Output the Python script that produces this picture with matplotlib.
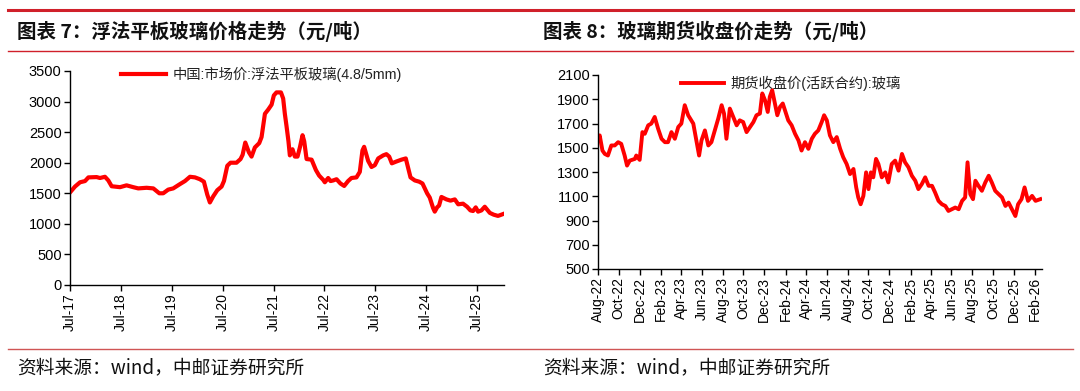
import matplotlib
matplotlib.use("Agg")
import matplotlib.pyplot as plt
import matplotlib.dates as mdates
import numpy as np
import pandas as pd

plt.rcParams['font.family'] = ['Liberation Sans', 'Noto Sans CJK SC', 'DejaVu Sans']

# ---------------- data: left chart (spot price) ----------------
spot_dates = [
    "2017-07-06", "2017-08-06", "2017-09-11", "2017-10-17", "2017-11-10", "2018-01-08",
    "2018-02-01", "2018-03-09", "2018-04-02", "2018-04-26", "2018-06-25", "2018-08-11",
    "2018-09-28", "2018-11-03", "2019-01-02", "2019-02-19", "2019-04-03", "2019-05-01",
    "2019-06-06", "2019-07-12", "2019-08-29", "2019-10-04", "2019-11-09", "2019-12-15",
    "2020-01-19", "2020-02-17", "2020-03-12", "2020-03-31", "2020-04-24", "2020-05-23",
    "2020-06-23", "2020-07-10", "2020-08-03", "2020-08-26", "2020-10-08", "2020-11-06",
    "2020-11-21", "2020-12-10", "2021-01-05", "2021-01-24", "2021-02-17", "2021-03-20",
    "2021-04-06", "2021-04-30", "2021-05-24", "2021-06-17", "2021-07-03", "2021-07-22",
    "2021-08-23", "2021-09-08", "2021-09-20", "2021-10-02", "2021-10-16", "2021-10-26",
    "2021-11-14", "2021-12-01", "2021-12-20", "2022-01-06", "2022-01-25", "2022-02-06",
    "2022-02-23", "2022-03-31", "2022-05-01", "2022-05-24", "2022-06-22", "2022-07-04",
    "2022-07-28", "2022-08-14", "2022-09-02", "2022-09-26", "2022-10-24", "2022-11-20",
    "2022-12-18", "2023-01-11", "2023-02-16", "2023-03-12", "2023-03-31", "2023-04-12",
    "2023-05-11", "2023-06-04", "2023-06-28", "2023-07-22", "2023-08-27", "2023-09-19",
    "2023-10-09", "2023-10-28", "2023-11-30", "2024-01-05", "2024-02-05", "2024-03-10",
    "2024-04-10", "2024-05-11", "2024-06-04", "2024-07-07", "2024-07-26", "2024-08-19",
    "2024-08-31", "2024-09-17", "2024-10-01", "2024-10-18", "2024-11-23", "2024-12-22",
    "2025-01-22", "2025-02-15", "2025-03-22", "2025-04-20", "2025-05-14", "2025-06-02",
    "2025-06-21", "2025-07-08", "2025-08-01", "2025-08-25", "2025-09-30", "2025-10-28",
    "2025-11-28", "2026-01-03",
]
spot_values = [
    1527, 1610, 1680, 1700, 1760, 1765,
    1750, 1770, 1710, 1615, 1600, 1630,
    1600, 1580, 1590, 1580, 1500, 1500,
    1560, 1580, 1650, 1700, 1770, 1760,
    1730, 1690, 1480, 1350, 1450, 1550,
    1610, 1700, 1950, 2000, 2000, 2060,
    2130, 2330, 2170, 2100, 2250, 2320,
    2420, 2800, 2870, 2950, 3100, 3150,
    3150, 3050, 2800, 2600, 2350, 2120,
    2220, 2100, 2100, 2250, 2450, 2350,
    2060, 2050, 1880, 1790, 1720, 1680,
    1750, 1700, 1710, 1730, 1660, 1620,
    1700, 1750, 1760, 1850, 2200, 2260,
    2030, 1930, 1960, 2070, 2120, 2140,
    2100, 1990, 2020, 2050, 2070, 1760,
    1710, 1690, 1660, 1500, 1430, 1260,
    1200, 1270, 1300, 1440, 1400, 1380,
    1400, 1320, 1330, 1280, 1220, 1210,
    1270, 1200, 1220, 1280, 1180, 1150,
    1130, 1160,
]
spot_label = "中国:市场价:浮法平板玻璃(4.8/5mm)"

# ---------------- data: right chart (futures close) ----------------
fut_dates = [
    "2022-08-01", "2022-08-06", "2022-08-14", "2022-08-21", "2022-08-30", "2022-09-09",
    "2022-09-19", "2022-09-29", "2022-10-08", "2022-10-18", "2022-10-25", "2022-11-02",
    "2022-11-17", "2022-11-21", "2022-12-01", "2022-12-09", "2022-12-16", "2022-12-26",
    "2023-01-04", "2023-01-14", "2023-01-24", "2023-02-03", "2023-02-13", "2023-02-22",
    "2023-03-04", "2023-03-14", "2023-03-24", "2023-04-02", "2023-04-12", "2023-04-22",
    "2023-05-07", "2023-05-16", "2023-05-24", "2023-05-31", "2023-06-10", "2023-06-20",
    "2023-06-29", "2023-07-09", "2023-07-19", "2023-07-29", "2023-08-05", "2023-08-12",
    "2023-08-22", "2023-09-01", "2023-09-11", "2023-09-20", "2023-09-30", "2023-10-10",
    "2023-10-20", "2023-10-30", "2023-11-08", "2023-11-18", "2023-11-25", "2023-12-03",
    "2023-12-11", "2023-12-17", "2023-12-24", "2024-01-01", "2024-01-08", "2024-01-16",
    "2024-01-24", "2024-02-01", "2024-02-09", "2024-02-19", "2024-02-29", "2024-03-10",
    "2024-03-19", "2024-03-29", "2024-04-08", "2024-04-18", "2024-04-27", "2024-05-07",
    "2024-05-17", "2024-05-24", "2024-06-01", "2024-06-10", "2024-06-20", "2024-06-30",
    "2024-07-10", "2024-07-19", "2024-07-29", "2024-08-08", "2024-08-18", "2024-08-26",
    "2024-09-01", "2024-09-08", "2024-09-16", "2024-09-24", "2024-10-01", "2024-10-08",
    "2024-10-15", "2024-10-23", "2024-10-30", "2024-11-09", "2024-11-19", "2024-11-28",
    "2024-12-08", "2024-12-18", "2024-12-28", "2025-01-07", "2025-01-16", "2025-01-26",
    "2025-02-05", "2025-02-15", "2025-02-24", "2025-03-06", "2025-03-16", "2025-03-26",
    "2025-04-05", "2025-04-14", "2025-04-24", "2025-05-04", "2025-05-14", "2025-05-23",
    "2025-06-02", "2025-06-12", "2025-06-22", "2025-07-02", "2025-07-11", "2025-07-18",
    "2025-07-26", "2025-08-03", "2025-08-10", "2025-08-19", "2025-08-29", "2025-09-08",
    "2025-09-18", "2025-09-27", "2025-10-07", "2025-10-17", "2025-10-27", "2025-11-06",
    "2025-11-15", "2025-11-25", "2025-12-05", "2025-12-13", "2025-12-23", "2026-01-01",
    "2026-01-11", "2026-01-23", "2026-02-02", "2026-02-16",
]
fut_values = [
    1574, 1602, 1477, 1449, 1436, 1519,
    1519, 1546, 1532, 1436, 1353, 1394,
    1408, 1436, 1400, 1629, 1615, 1685,
    1699, 1754, 1657, 1574, 1546, 1546,
    1629, 1574, 1671, 1699, 1851, 1768,
    1699, 1560, 1436, 1560, 1643, 1519,
    1546, 1643, 1740, 1851, 1782, 1574,
    1823, 1754, 1685, 1726, 1712, 1629,
    1671, 1712, 1768, 1782, 1948, 1892,
    1795, 1920, 1975, 1865, 1768, 1837,
    1865, 1795, 1726, 1685, 1615, 1560,
    1477, 1546, 1491, 1574, 1615, 1643,
    1712, 1768, 1726, 1602, 1546, 1588,
    1491, 1422, 1366, 1283, 1325, 1173,
    1090, 1034, 1103, 1297, 1159, 1297,
    1256, 1408, 1366, 1256, 1297, 1214,
    1366, 1394, 1311, 1449, 1380, 1339,
    1269, 1228, 1159, 1200, 1256, 1186,
    1186, 1131, 1062, 1034, 1020, 979,
    993, 1007, 993, 1062, 1090, 1380,
    1117, 1076, 1228, 1186, 1145, 1214,
    1269, 1214, 1145, 1117, 1090, 1020,
    1048, 993, 937, 1034, 1076, 1173,
    1062, 1103, 1062, 1076,
]
fut_label = "期货收盘价(活跃合约):玻璃"

left_title = "图表 7：浮法平板玻璃价格走势（元/吨）"
right_title = "图表 8：玻璃期货收盘价走势（元/吨）"
source_text = "资料来源：wind，中邮证券研究所"

# ---------------- figure ----------------
W, H = 1080, 391
fig = plt.figure(figsize=(W / 100, H / 100), dpi=100)
fig.patch.set_facecolor("white")

RED = "#ff0000"
HEAD_RED = "#d0202a"

def fx(px):
    return px / W

def fy(py):
    return 1 - py / H

# header / footer lines
fig.add_artist(plt.Line2D([fx(8), fx(1073)], [fy(10), fy(10)], color=HEAD_RED, lw=2.2))
fig.add_artist(plt.Line2D([fx(8), fx(1073)], [fy(51), fy(51)], color=HEAD_RED, lw=1.0))
fig.add_artist(plt.Line2D([fx(8), fx(1073)], [fy(349), fy(349)], color="#d05555", lw=1.0))

cjk_font = ['Noto Sans CJK SC', 'DejaVu Sans']
fig.text(fx(17), fy(31), left_title, fontsize=14, fontweight='bold', family=cjk_font,
         va='center', ha='left', color='#111111')
fig.text(fx(543), fy(31), right_title, fontsize=14, fontweight='bold', family=cjk_font,
         va='center', ha='left', color='#111111')
fig.text(fx(17), fy(368), source_text, fontsize=13.5, family=cjk_font,
         va='center', ha='left', color='#111111')
fig.text(fx(543), fy(368), source_text, fontsize=13.5, family=cjk_font,
         va='center', ha='left', color='#111111')


def style_axes(ax):
    for s in ['top', 'right']:
        ax.spines[s].set_visible(False)
    for s in ['left', 'bottom']:
        ax.spines[s].set_linewidth(1.0)
        ax.spines[s].set_color('black')
    ax.tick_params(axis='both', direction='out', length=4, width=1,
                   colors='black', pad=2)
    ax.tick_params(axis='y', labelsize=10.5)
    ax.tick_params(axis='x', labelrotation=90, labelsize=10)
    ax.set_facecolor('white')


leg_prop = {'family': ['Liberation Sans', 'Noto Sans CJK SC'], 'size': 10.3}

# ---------------- left axes ----------------
axL = fig.add_axes([fx(70), fy(285), fx(504 - 70), (285 - 71) / H])
sd = pd.to_datetime(spot_dates)
axL.plot(sd, spot_values, color=RED, lw=3.0, solid_joinstyle='round', label=spot_label)
axL.set_ylim(0, 3500)
axL.set_yticks(np.arange(0, 3501, 500))
axL.set_xlim(pd.Timestamp("2017-07-01"), pd.Timestamp("2026-01-10"))
axL.xaxis.set_major_locator(mdates.MonthLocator(bymonth=[7]))
axL.xaxis.set_major_formatter(mdates.DateFormatter('%b-%y'))
style_axes(axL)
legL = axL.legend(loc='upper left', bbox_to_anchor=(0.105, 1.045), frameon=False,
                  handlelength=3.1, handletextpad=0.5, borderaxespad=0, prop=leg_prop)
for t in legL.get_texts():
    t.set_color('#222222')

# ---------------- right axes ----------------
axR = fig.add_axes([fx(598), fy(269), fx(1042 - 598), (269 - 75) / H])
fd = pd.to_datetime(fut_dates)
axR.plot(fd, fut_values, color=RED, lw=2.8, solid_joinstyle='round', label=fut_label)
axR.set_ylim(500, 2100)
axR.set_yticks(np.arange(500, 2101, 200))
axR.set_xlim(pd.Timestamp("2022-08-01"), pd.Timestamp("2026-02-21"))
axR.xaxis.set_major_locator(mdates.MonthLocator(bymonth=[2, 4, 6, 8, 10, 12]))
axR.xaxis.set_major_formatter(mdates.DateFormatter('%b-%y'))
style_axes(axR)
legR = axR.legend(loc='upper left', bbox_to_anchor=(0.175, 1.025), frameon=False,
                  handlelength=3.0, handletextpad=0.4, borderaxespad=0, prop=leg_prop)
for t in legR.get_texts():
    t.set_color('#222222')

fig.savefig("out.png", dpi=100, facecolor='white')
